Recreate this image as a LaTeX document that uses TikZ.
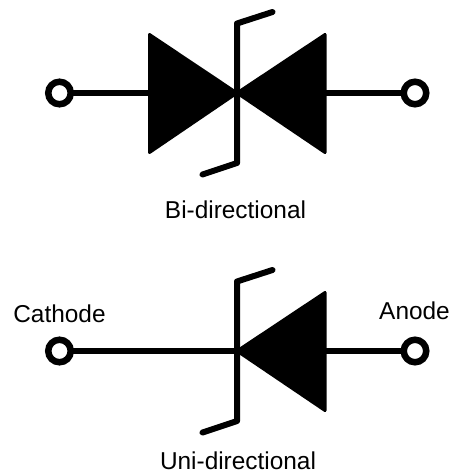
\documentclass[tikz,border=0pt]{standalone}
\usepackage{fontspec}
\setmainfont{Liberation Sans}
\tikzset{
  x=1pt,y=-1pt,
  term/.style={circle,draw=black,fill=white,line width=6.5pt,minimum size=22.5pt,inner sep=0pt,outer sep=0pt},
  wire/.style={line width=5.5pt},
  bar/.style={line width=6pt,line cap=round,line join=round},
  tri/.style={fill=black,draw=black,line width=3pt,line join=round},
  lab/.style={anchor=base,inner sep=0pt,font=\fontsize{24.4}{24.4}\selectfont}
}
\begin{document}
\begin{tikzpicture}
\useasboundingbox (0,0) rectangle (453,471);
% top
\coordinate (tc) at (237,93);
\coordinate (tl) at (149.5,93);
\coordinate (tr) at (325,93);
\node[term] (a1) at (59.5,93) {};
\node[term] (a2) at (415,93) {};
\draw[wire] (a1) -- (tl);
\draw[wire] (a2) -- (tr);
\draw[tri] (149.5,34.5) -- (149.5,152.5) -- (tc) -- cycle;
\draw[tri] (325,34.5) -- (325,152.5) -- (tc) -- cycle;
\coordinate (ta) at (272.5,12);
\coordinate (tb) at (237,23.5);
\coordinate (tbb) at (237,163);
\coordinate (te) at (202.5,174.5);
\draw[bar] (ta) -- (tb) -- (tbb) -- (te);
\node[lab] (l1) at (235.5,218) {Bi-directional};
% bottom
\coordinate (bc) at (237,351);
\coordinate (br) at (325,351);
\node[term] (c1) at (59.5,351) {};
\node[term] (c2) at (415,351) {};
\draw[wire] (c1) -- (bc);
\draw[wire] (c2) -- (br);
\draw[tri] (325,292.5) -- (325,410.5) -- (bc) -- cycle;
\coordinate (ba) at (272.5,270);
\coordinate (bb) at (237,281.5);
\coordinate (bbb) at (237,421);
\coordinate (be) at (202.5,432.5);
\draw[bar] (ba) -- (bb) -- (bbb) -- (be);
\node[lab] (l2) at (59.5,322) {Cathode};
\node[lab] (l3) at (414.5,319) {Anode};
\node[lab] (l4) at (238,469) {Uni-directional};
\end{tikzpicture}
\end{document}
